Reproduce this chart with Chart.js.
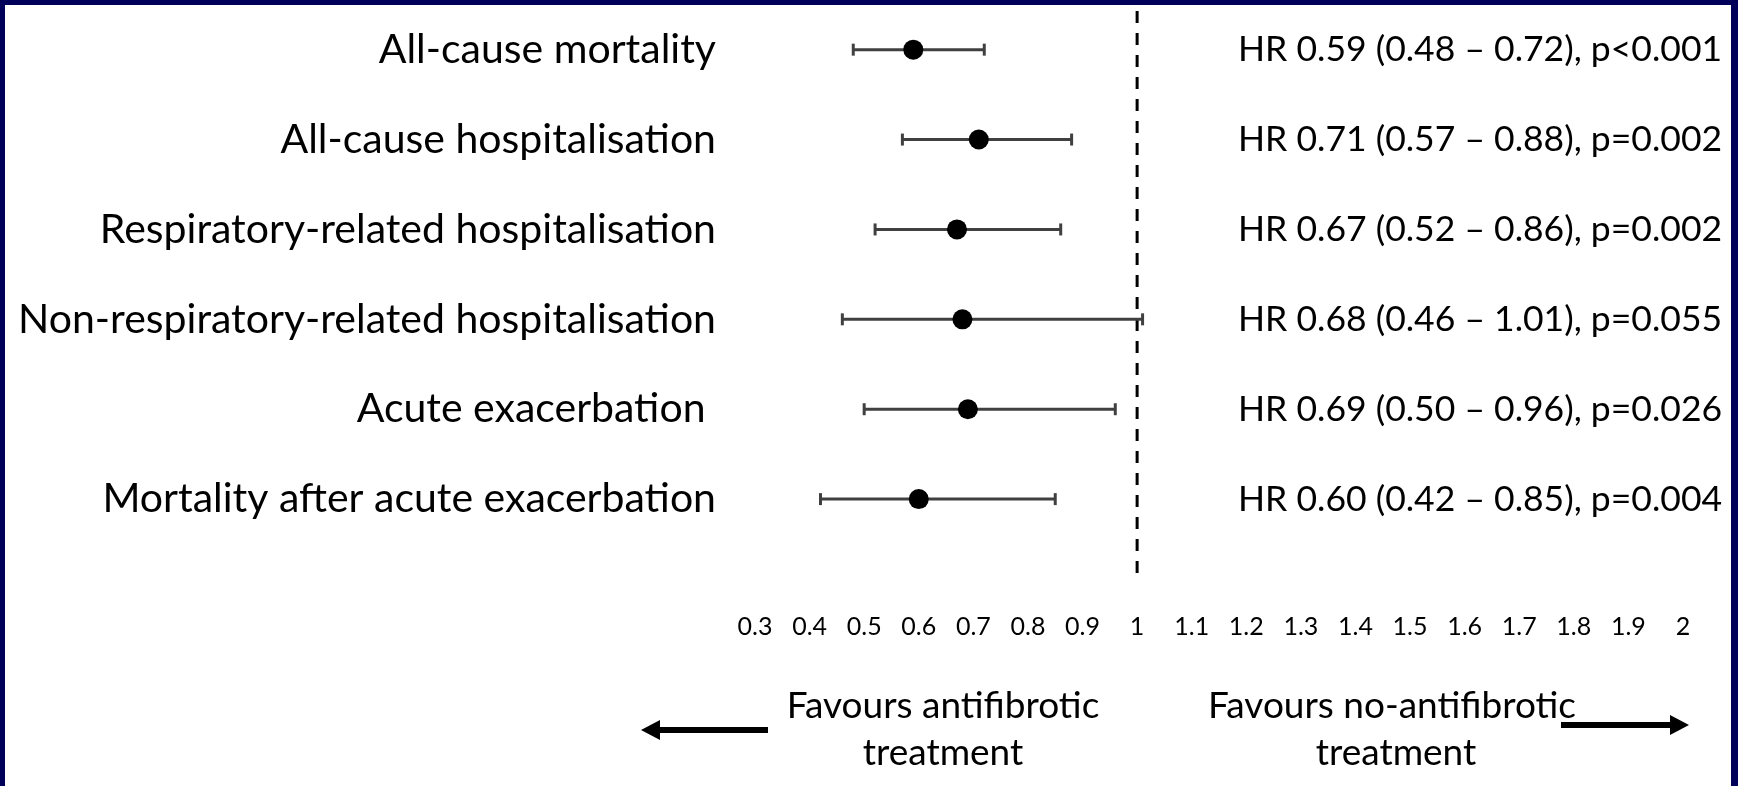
<!DOCTYPE html>
<html>
<head>
<meta charset="utf-8">
<script src="https://cdn.jsdelivr.net/npm/chart.js@4.4.1/dist/chart.umd.min.js"></script>
<style>
  html, body { margin: 0; padding: 0; background: #000058; }
  canvas { display: block; }
</style>
</head>
<body>
<canvas id="forestChart" width="1738" height="786"></canvas>
<script>
// Forest plot: hazard ratios with 95% CI

const outcomes = [
    'All-cause mortality',
    'All-cause hospitalisation',
    'Respiratory-related hospitalisation',
    'Non-respiratory-related hospitalisation',
    'Acute exacerbation ',
    'Mortality after acute exacerbation'
];
const hazardRatios = [0.59, 0.71, 0.67, 0.68, 0.69, 0.60];
const ciLower = [0.48, 0.57, 0.52, 0.46, 0.50, 0.42];
const ciUpper = [0.72, 0.88, 0.86, 1.01, 0.96, 0.85];
const pValues = ['p<0.001', 'p=0.002', 'p=0.002', 'p=0.055', 'p=0.026', 'p=0.004'];
const tickValues = [0.3, 0.4, 0.5, 0.6, 0.7, 0.8, 0.9, 1, 1.1, 1.2, 1.3, 1.4, 1.5, 1.6, 1.7, 1.8, 1.9, 2];
const tickLabels = ['0.3', '0.4', '0.5', '0.6', '0.7', '0.8', '0.9', '1', '1.1', '1.2', '1.3', '1.4', '1.5', '1.6', '1.7', '1.8', '1.9', '2'];

const FONT = 'Lato';

const fmt = v => v.toFixed(2);
const hrText = outcomes.map((_, i) =>
    'HR ' + fmt(hazardRatios[i]) + ' (' + fmt(ciLower[i]) + ' \u2013 ' + fmt(ciUpper[i]) + '), ' + pValues[i]);

// frame + side annotations
const framePlugin = {
    id: 'frame',
    beforeDraw(chart) {
        const ctx = chart.ctx;
        ctx.save();
        ctx.fillStyle = '#000058';
        ctx.fillRect(0, 0, chart.width, chart.height);
        ctx.fillStyle = '#ffffff';
        ctx.fillRect(5, 5, chart.width - 12, chart.height - 5);
        ctx.restore();
    },
    afterDraw(chart) {
        const ctx = chart.ctx;
        const yScale = chart.scales.y;
        ctx.save();
        ctx.fillStyle = '#000';
        ctx.textBaseline = 'middle';
        ctx.font = '35.5px ' + FONT;
        ctx.textAlign = 'left';
        hrText.forEach((t, i) => ctx.fillText(t, 1238, yScale.getPixelForValue(i)));

        ctx.font = '37px ' + FONT;
        ctx.textAlign = 'center';
        ctx.fillText('Favours antifibrotic', 943, 706);
        ctx.fillText('treatment', 943, 753);
        ctx.fillText('Favours no-antifibrotic', 1392, 706);
        ctx.fillText('treatment', 1396, 753);

        // arrows
        const arrow = (x0, x1, y) => {
            const dir = Math.sign(x1 - x0);
            ctx.fillRect(Math.min(x0, x1 - dir * 17), y - 3, Math.abs(x1 - dir * 17 - x0), 6);
            ctx.beginPath();
            ctx.moveTo(x1, y);
            ctx.lineTo(x1 - dir * 19, y - 10);
            ctx.lineTo(x1 - dir * 19, y + 10);
            ctx.closePath();
            ctx.fill();
        };
        arrow(768, 641, 730);
        arrow(1561, 1689, 725);
        ctx.restore();
    }
};

const ciDatasets = outcomes.map((_, i) => ({
    type: 'line',
    data: [{ x: ciLower[i], y: i }, { x: ciUpper[i], y: i }],
    borderColor: '#404040',
    borderWidth: 3,
    pointStyle: 'line',
    rotation: 90,
    pointRadius: 6,
    pointBorderWidth: 3,
    pointBorderColor: '#404040',
    order: 1
}));

const ctx = document.getElementById('forestChart').getContext('2d');
new Chart(ctx, {
    type: 'scatter',
    data: {
        datasets: [
            {
                data: hazardRatios.map((v, i) => ({ x: v, y: i })),
                backgroundColor: '#000',
                borderWidth: 0,
                pointRadius: 10,
                order: 0
            },
            ...ciDatasets,
            {
                type: 'line',
                data: [{ x: 1, y: -0.43 }, { x: 1, y: 5.86 }],
                borderColor: '#000',
                borderWidth: 3,
                borderDash: [12, 10],
                pointRadius: 0,
                order: 2
            }
        ]
    },
    options: {
        responsive: false,
        animation: false,
        devicePixelRatio: 1,
        layout: { padding: { left: 5, right: 55, top: 11, bottom: 138 } },
        plugins: { legend: { display: false }, tooltip: { enabled: false } },
        scales: {
            x: {
                type: 'linear',
                min: 0.3,
                max: 2,
                grid: { display: false },
                border: { display: false },
                afterFit: s => { s.height = 50; },
                afterBuildTicks: s => { s.ticks = tickValues.map(v => ({ value: v })); },
                ticks: {
                    autoSkip: false,
                    maxRotation: 0,
                    padding: 6,
                    color: '#000',
                    font: { family: FONT, size: 25 },
                    callback: (v, idx) => tickLabels[idx]
                }
            },
            y: {
                type: 'linear',
                reverse: true,
                min: -0.43,
                max: 6.10,
                grid: { display: false },
                border: { display: false },
                afterFit: s => { s.width = 750; s.paddingTop = 0; s.paddingBottom = 0; },
                afterBuildTicks: s => { s.ticks = outcomes.map((_, i) => ({ value: i })); },
                ticks: {
                    autoSkip: false,
                    padding: 31,
                    color: '#000',
                    font: { family: FONT, size: 41 },
                    callback: v => outcomes[v]
                }
            }
        }
    },
    plugins: [framePlugin]
});
</script>
</body>
</html>
